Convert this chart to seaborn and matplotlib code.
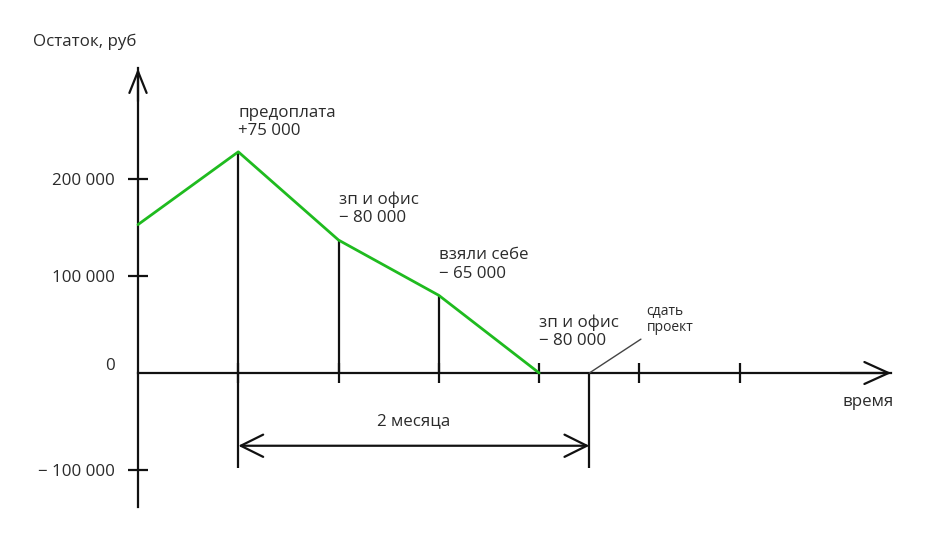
import matplotlib
matplotlib.use("Agg")
import matplotlib.pyplot as plt
import seaborn as sns

# cash balance over time (steps along the time axis)
steps = [0, 1, 2, 3, 4]
balance = [153000, 228000, 137000, 80000, 0]
event_labels = ["предоплата\n+75 000", "зп и офис\n− 80 000",
                "взяли себе\n− 65 000", "зп и офис\n− 80 000"]
event_steps = [1, 2, 3, 4]
deadline = 4.5
time_ticks = [1, 2, 3, 4, 5, 6]
y_ticks = [-100000, 100000, 200000]
y_tick_labels = ["− 100 000", "100 000", "200 000"]

GREEN = "#1fbb1f"
INK = "#111111"
TEXT = "#2b2b2b"
FS = 12.2

sns.set_style("white")
plt.rcParams["font.family"] = ["Open Sans", "DejaVu Sans"]

fig = plt.figure(figsize=(9.5, 5.44), dpi=100)
ax = fig.add_axes([0, 0, 1, 1])

# drops from the line down to the time axis
ax.vlines(event_steps[1:3], 0, balance[2:4], color=INK, lw=1.6, zorder=2)
ax.vlines(event_steps[0], -98000, balance[1], color=INK, lw=1.6, zorder=2)
ax.vlines(deadline, -98000, 0, color=INK, lw=1.6, zorder=2)

sns.lineplot(x=steps, y=balance, color=GREEN, lw=2, ax=ax, zorder=3)

ax.set_xlim(-138 / 100.3, 812 / 100.3)
ax.set_ylim(-176289, 384536)

# axes as arrows
for side in ["top", "right"]:
    ax.spines[side].set_visible(False)
ax.spines["left"].set_position(("data", 0))
ax.spines["bottom"].set_position(("data", 0))
ax.spines["left"].set_bounds(-138000, 314000)
ax.spines["bottom"].set_bounds(0, 7.51)
for side in ["left", "bottom"]:
    ax.spines[side].set_color(INK)
    ax.spines[side].set_linewidth(1.6)
    ax.spines[side].set_zorder(2)

ax.annotate("", xy=(0, 314000), xytext=(0, 280000),
            arrowprops=dict(arrowstyle="->,head_length=1.55,head_width=0.62",
                            mutation_scale=10, lw=1.6, color=INK, shrinkA=0, shrinkB=0))
ax.annotate("", xy=(7.51, 0), xytext=(7.0, 0),
            arrowprops=dict(arrowstyle="->,head_length=1.74,head_width=0.79",
                            mutation_scale=10, lw=1.6, color=INK, shrinkA=0, shrinkB=0))

ax.set_xticks(time_ticks)
ax.set_xticklabels([])
ax.tick_params(axis="x", bottom=True, direction="inout", length=14.4, width=1.6, color=INK)
ax.set_yticks(y_ticks)
ax.set_yticklabels(y_tick_labels)
ax.tick_params(axis="y", left=True, direction="inout", length=15, width=1.6, color=INK,
               pad=9, labelsize=FS, labelcolor=TEXT)
ax.annotate("0", xy=(0, 0), xytext=(-16.6, 5), textcoords="offset points",
            ha="right", va="center", fontsize=FS, color=TEXT)

# event notes above each break point
offsets = [9, 10, 10, 17]
for s, lab, off in zip(event_steps, event_labels, offsets):
    ax.annotate(lab, xy=(s, balance[s]), xytext=(0, off), textcoords="offset points",
                ha="left", va="bottom", fontsize=FS, color=TEXT, linespacing=1.2)

# deadline note
ax.annotate("сдать\nпроект", xy=(deadline, 0), xytext=(5.07, 55000),
            ha="left", va="center", fontsize=10, color=TEXT, linespacing=1.15,
            arrowprops=dict(arrowstyle="-", color="#444444", lw=1, relpos=(0, 0),
                            shrinkA=2, shrinkB=0))

# 2 months bracket
ax.annotate("", xy=(event_steps[0], -75000), xytext=(deadline, -75000),
            arrowprops=dict(arrowstyle="<->,head_length=1.61,head_width=0.8",
                            mutation_scale=10, lw=1.6, color=INK, shrinkA=0, shrinkB=0))
ax.text((event_steps[0] + deadline) / 2, -50000, "2 месяца", ha="center", va="center",
        fontsize=FS, color=TEXT)

ax.text(7.53, -30000, "время", ha="right", va="center", fontsize=FS, color=TEXT)
ax.text(-0.533, 341000, "Остаток, руб", ha="center", va="center", fontsize=FS, color=TEXT)

fig.savefig("out.png", dpi=100)
